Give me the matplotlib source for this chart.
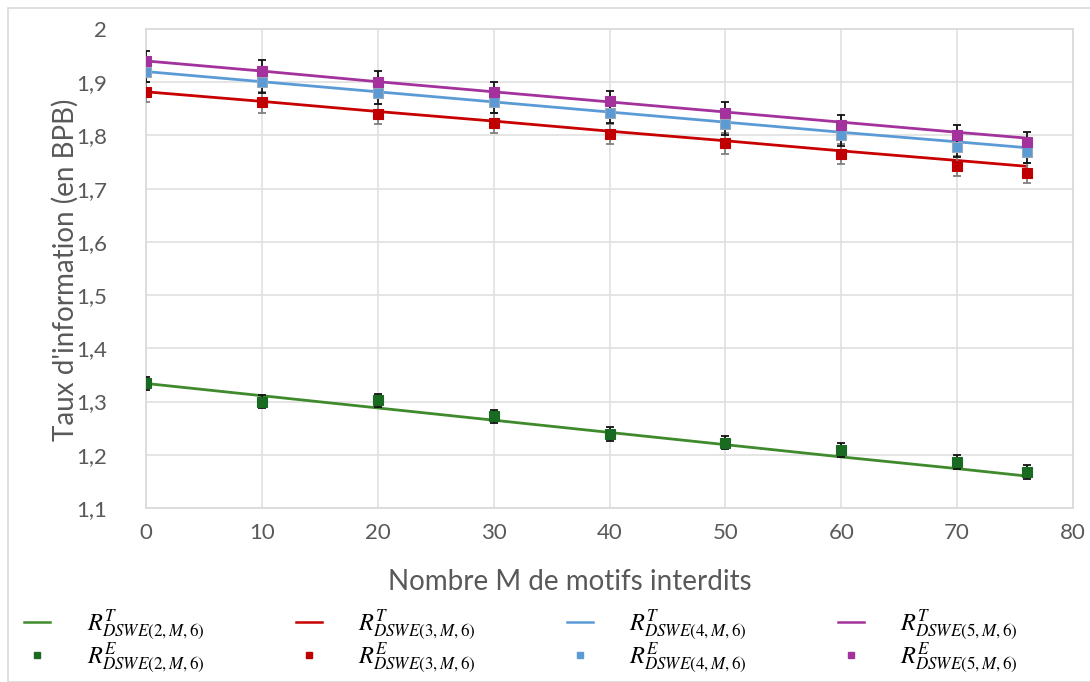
import matplotlib
matplotlib.use("Agg")
import matplotlib.pyplot as plt
from matplotlib.lines import Line2D
from matplotlib.patches import Rectangle
from matplotlib.ticker import FuncFormatter

plt.rcParams['font.family'] = ['Lato', 'DejaVu Sans']
plt.rcParams['mathtext.fontset'] = 'stix'

M = [0, 10, 20, 30, 40, 50, 60, 70, 76]

theo_2 = [1.334, 1.311, 1.288, 1.265, 1.242, 1.219, 1.196, 1.174, 1.160]
theo_3 = [1.882, 1.864, 1.845, 1.827, 1.808, 1.790, 1.771, 1.753, 1.742]
theo_4 = [1.920, 1.901, 1.882, 1.863, 1.844, 1.825, 1.806, 1.788, 1.777]
theo_5 = [1.940, 1.921, 1.901, 1.882, 1.863, 1.844, 1.825, 1.806, 1.795]

exp_2 = [1.334, 1.300, 1.302, 1.272, 1.239, 1.223, 1.209, 1.186, 1.168]
exp_3 = [1.882, 1.862, 1.840, 1.824, 1.803, 1.785, 1.765, 1.743, 1.730]
exp_4 = [1.920, 1.900, 1.880, 1.863, 1.843, 1.821, 1.800, 1.779, 1.768]
exp_5 = [1.939, 1.921, 1.901, 1.881, 1.864, 1.843, 1.819, 1.800, 1.787]

err_2 = 0.013
err_3 = 0.019
err_4 = 0.020
err_5 = 0.020

labels_T = [r'$R^{T}_{DSWE(2,M,6)}$', r'$R^{T}_{DSWE(3,M,6)}$',
            r'$R^{T}_{DSWE(4,M,6)}$', r'$R^{T}_{DSWE(5,M,6)}$']
labels_E = [r'$R^{E}_{DSWE(2,M,6)}$', r'$R^{E}_{DSWE(3,M,6)}$',
            r'$R^{E}_{DSWE(4,M,6)}$', r'$R^{E}_{DSWE(5,M,6)}$']

line_colors = ['#3f8a2c', '#c80000', '#5b9bd5', '#a3329c']
mark_colors = ['#1a6b22', '#c00000', '#5b9bd5', '#a3329c']
mark_edges = ['#1a6b22', '#c00000', '#9aa9b8', '#a3329c']
err_colors = ['#111111', '#808080', '#111111', '#111111']

theos = [theo_2, theo_3, theo_4, theo_5]
exps = [exp_2, exp_3, exp_4, exp_5]
errs = [err_2, err_3, err_4, err_5]

fig = plt.figure(figsize=(10.9, 6.82), dpi=100)
ax = fig.add_axes([146/1090, 1-508/682, (1073-146)/1090, (508-29)/682])

# outer chart border
fig.patches.append(Rectangle((8/1090, 0), 1.0, 1-8/682, transform=fig.transFigure,
                             fill=False, edgecolor='#d9d9d9', linewidth=1.2))

handles = []
for i in range(4):
    ax.plot(M, theos[i], color=line_colors[i], linewidth=2, zorder=3)
    ax.errorbar(M, exps[i], yerr=errs[i], fmt='none', ecolor=err_colors[i],
                elinewidth=1.3, capsize=3, capthick=1.3, zorder=4)
    ax.plot(M, exps[i], linestyle='none', marker='s', markersize=6.5,
            markerfacecolor=mark_colors[i], markeredgecolor=mark_edges[i],
            markeredgewidth=0.8, zorder=5)
    handles.append(Line2D([], [], color=line_colors[i], linewidth=1.8))
    handles.append(Line2D([], [], linestyle='none', marker='s', markersize=5,
                          markerfacecolor=mark_colors[i], markeredgecolor=mark_colors[i]))

legend_labels = []
for i in range(4):
    legend_labels.append(labels_T[i])
    legend_labels.append(labels_E[i])

ax.set_xlim(0, 80)
ax.set_ylim(1.1, 2.0)
ax.set_xticks(range(0, 81, 10))
ax.set_yticks([1.1 + 0.1*k for k in range(10)])


def yfmt(v, p):
    if abs(v - 2) < 1e-6:
        return '2'
    return ('%.1f' % v).replace('.', ',')


ax.yaxis.set_major_formatter(FuncFormatter(yfmt))
ax.grid(True, color='#e0e0e0', linewidth=1.2)
ax.set_axisbelow(True)
for s in ax.spines.values():
    s.set_color('#d9d9d9')
    s.set_linewidth(1.2)
ax.tick_params(length=0, labelsize=16, labelcolor='#595959')
ax.tick_params(axis='y', pad=28)
ax.tick_params(axis='x', pad=11)

fig.text(570/1090, 1-582/682, 'Nombre M de motifs interdits', ha='center', va='center',
         fontsize=20, color='#595959')
fig.text(65/1090, 1-270/682, "Taux d'information (en BPB)", ha='center', va='center',
         rotation=90, fontsize=20, color='#595959')

fig.legend(handles, legend_labels, ncol=4, loc='center', bbox_to_anchor=(521/1090, 1-642/682),
           frameon=False, fontsize=17.5, handlelength=1.07, handletextpad=1.5,
           columnspacing=3.75, labelspacing=-0.1, borderaxespad=0, borderpad=0)

fig.savefig('out.png', dpi=100)
